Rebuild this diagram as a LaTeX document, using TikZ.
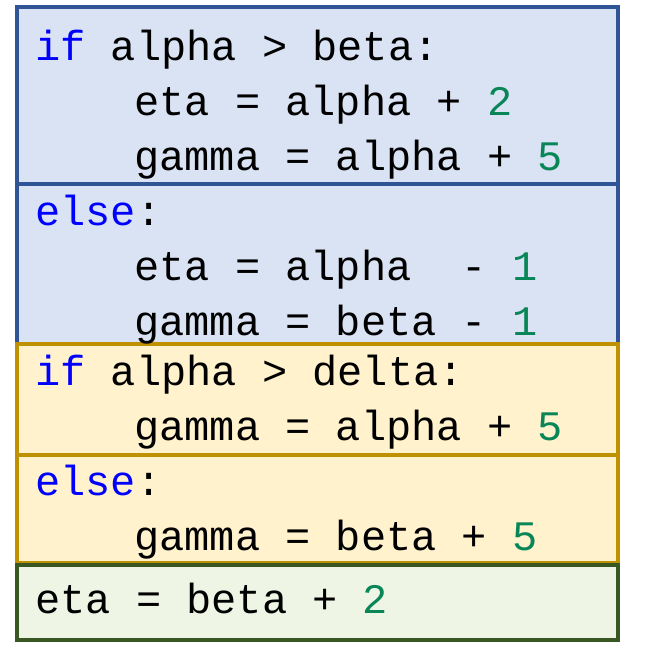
\documentclass[tikz,border=0pt]{standalone}
\usepackage{fontspec}
\setmonofont{Liberation Mono}
\usetikzlibrary{positioning}
\definecolor{blueFill}{HTML}{DAE3F3}
\definecolor{blueLine}{HTML}{2F5597}
\definecolor{yelFill}{HTML}{FFF2CC}
\definecolor{yelLine}{HTML}{BF9000}
\definecolor{grnFill}{HTML}{EEF5E5}
\definecolor{grnLine}{HTML}{385723}
\definecolor{kw}{HTML}{0000FF}
\definecolor{num}{HTML}{098658}
\newcommand{\kw}[1]{\textcolor{kw}{#1}}
\newcommand{\nm}[1]{\textcolor{num}{#1}}
\tikzset{
  code/.style={anchor=base west, inner sep=0pt, font=\fontsize{42}{42}\selectfont\ttfamily},
  blk/.style={line width=3.5pt}
}
\begin{document}
\begin{tikzpicture}[x=1pt,y=-1pt]
\useasboundingbox (0,0) rectangle (671,656);
\draw[blk,blueLine,fill=blueFill] (17,7) rectangle (618,184);
\draw[blk,blueLine,fill=blueFill] (17,184) rectangle (618,344);
\draw[blk,yelLine,fill=yelFill] (17,344) rectangle (618,455);
\draw[blk,yelLine,fill=yelFill] (17,455) rectangle (618,563);
\draw[blk,grnLine,fill=grnFill] (17,565) rectangle (618,640);
% first if/else
\node[code] (l1) at (35,60) {\kw{if} alpha > beta:};
\node[code] (l2) at (134,115) {eta = alpha + \nm{2}};
\node[code] (l3) at (134,170) {gamma = alpha + \nm{5}};
\node[code] (l4) at (35,225) {\kw{else}:};
\node[code] (l5) at (134,280) {eta = alpha~ - \nm{1}};
\node[code] (l6) at (134,335) {gamma = beta - \nm{1}};
% second if/else
\node[code] (l7) at (35,385) {\kw{if} alpha > delta:};
\node[code] (l8) at (134,440) {gamma = alpha + \nm{5}};
\node[code] (l9) at (35,495) {\kw{else}:};
\node[code] (l10) at (134,550) {gamma = beta + \nm{5}};
% tail
\node[code] (l11) at (35,613) {eta = beta + \nm{2}};
\end{tikzpicture}
\end{document}
